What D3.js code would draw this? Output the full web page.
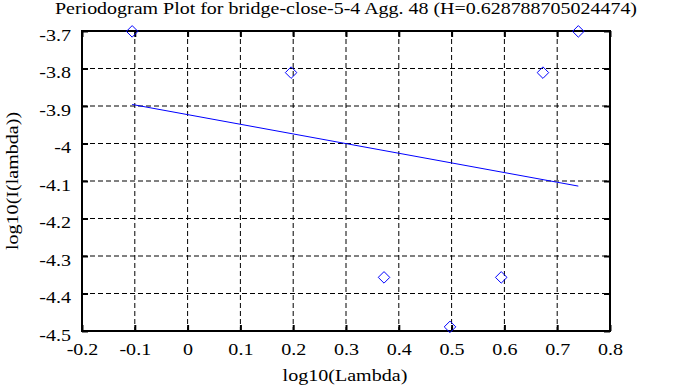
<!DOCTYPE html>
<html>
<head>
<meta charset="utf-8">
<script src="https://cdn.jsdelivr.net/npm/d3@7"></script>
<style>
  body { margin: 0; background: #fff; }
  text { font-family: "Liberation Serif", "DejaVu Serif", serif; fill: #000; }
</style>
</head>
<body>
<div id="chart"></div>
<script>
// periodogram points (log10 lambda, log10 I(lambda))
const logLambda = [-0.105, 0.196, 0.372, 0.497, 0.594, 0.673, 0.740];
const logI = [-3.701, -3.811, -4.357, -4.489, -4.357, -3.811, -3.701];

// fitted line: intercept and slope
const fitIntercept = -3.923;
const fitSlope = -0.2576;

const xTicks = [-0.2, -0.1, 0, 0.1, 0.2, 0.3, 0.4, 0.5, 0.6, 0.7, 0.8];
const yTicks = [-3.7, -3.8, -3.9, -4, -4.1, -4.2, -4.3, -4.4, -4.5];

const titleText = 'Periodogram Plot for bridge-close-5-4 Agg. 48 (H=0.628788705024474)';

const width = 688, height = 387;
const margin = { left: 82, right: 78, top: 31, bottom: 56 };
const fontSize = 17;
const stretch = 1.18; // reference font is wider than Times

const svg = d3.select('#chart').append('svg')
    .attr('width', width)
    .attr('height', height);

const x = d3.scaleLinear().domain([-0.2, 0.8]).range([margin.left, width - margin.right]);
const y = d3.scaleLinear().domain([-4.5, -3.7]).range([height - margin.bottom, margin.top]);

const fmt = d => String(+d.toFixed(1));

// widen text a bit to match reference glyphs
function widen(sel) {
    sel.each(function() {
        const w = this.getComputedTextLength();
        d3.select(this).attr('textLength', w * stretch).attr('lengthAdjust', 'spacingAndGlyphs');
    });
}

// grid
svg.append('g').selectAll('line').data(xTicks.slice(1, -1)).enter().append('line')
    .attr('x1', d => x(d)).attr('x2', d => x(d))
    .attr('y1', y(-3.7)).attr('y2', y(-4.5))
    .attr('stroke', '#000').attr('stroke-dasharray', '5,3');
svg.append('g').selectAll('line').data(yTicks.slice(1, -1)).enter().append('line')
    .attr('y1', d => y(d)).attr('y2', d => y(d))
    .attr('x1', x(-0.2)).attr('x2', x(0.8))
    .attr('stroke', '#000').attr('stroke-dasharray', '5,3');

// axes, ticks point inside
svg.append('g')
    .attr('transform', `translate(0,${y(-4.5)})`)
    .call(d3.axisBottom(x).tickValues(xTicks).tickFormat(fmt).tickSizeInner(-6).tickSizeOuter(0).tickPadding(12))
    .call(g => g.select('.domain').remove())
    .call(g => g.selectAll('line').attr('stroke-width', 2))
    .call(g => g.selectAll('text').attr('font-size', fontSize).attr('font-family', null).call(widen));
svg.append('g')
    .attr('transform', `translate(0,${y(-3.7)})`)
    .call(d3.axisTop(x).tickValues(xTicks).tickFormat('').tickSizeInner(-6).tickSizeOuter(0))
    .call(g => g.select('.domain').remove())
    .call(g => g.selectAll('line').attr('stroke-width', 2));
svg.append('g')
    .attr('transform', `translate(${x(-0.2)},0)`)
    .call(d3.axisLeft(y).tickValues(yTicks).tickFormat(fmt).tickSizeInner(-6).tickSizeOuter(0).tickPadding(11))
    .call(g => g.select('.domain').remove())
    .call(g => g.selectAll('line').attr('stroke-width', 2))
    .call(g => g.selectAll('text').attr('font-size', fontSize).attr('font-family', null).attr('dy', '0.55em').call(widen));
svg.append('g')
    .attr('transform', `translate(${x(0.8)},0)`)
    .call(d3.axisRight(y).tickValues(yTicks).tickFormat('').tickSizeInner(-6).tickSizeOuter(0))
    .call(g => g.select('.domain').remove())
    .call(g => g.selectAll('line').attr('stroke-width', 2));

// frame
svg.append('rect')
    .attr('x', x(-0.2)).attr('y', y(-3.7))
    .attr('width', x(0.8) - x(-0.2)).attr('height', y(-4.5) - y(-3.7))
    .attr('fill', 'none').attr('stroke', '#000').attr('stroke-width', 2);

// fit line
const x0 = d3.min(logLambda), x1 = d3.max(logLambda);
svg.append('line')
    .attr('x1', x(x0)).attr('y1', y(fitIntercept + fitSlope * x0))
    .attr('x2', x(x1)).attr('y2', y(fitIntercept + fitSlope * x1))
    .attr('stroke', '#0000ff').attr('stroke-width', 1);

// diamonds
const pts = logLambda.map((v, i) => [v, logI[i]]);
svg.append('g').selectAll('path').data(pts).enter().append('path')
    .attr('d', d3.symbol().type(d3.symbolDiamond2).size(85))
    .attr('transform', d => `translate(${x(d[0])},${y(d[1])})`)
    .attr('fill', 'none').attr('stroke', '#0000ff').attr('stroke-width', 1);

// labels
svg.append('text')
    .attr('x', 346).attr('y', 14)
    .attr('text-anchor', 'middle').attr('font-size', fontSize)
    .attr('textLength', 582).attr('lengthAdjust', 'spacingAndGlyphs')
    .text(titleText);
svg.append('text')
    .attr('x', 345).attr('y', 381)
    .attr('text-anchor', 'middle').attr('font-size', fontSize)
    .text('log10(Lambda)')
    .call(widen);
svg.append('text')
    .attr('transform', `translate(18,${(y(-3.7) + y(-4.5)) / 2}) rotate(-90)`)
    .attr('text-anchor', 'middle').attr('font-size', fontSize)
    .text('log10(I(lambda))')
    .call(widen);
</script>
</body>
</html>
